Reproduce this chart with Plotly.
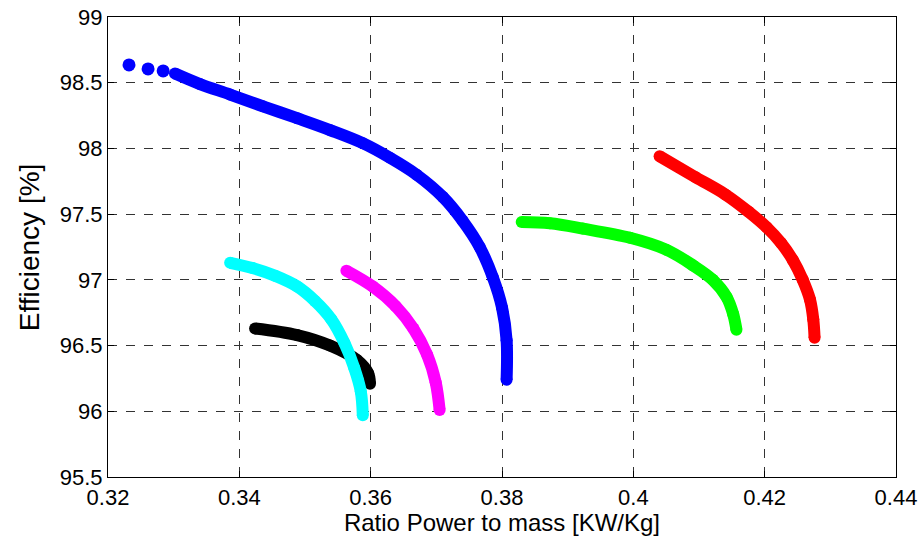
import plotly.graph_objects as go

# Pareto fronts: x = power/mass ratio [kW/kg], y = efficiency [%]
blue_dots_x = [0.3232, 0.3261, 0.3284]
blue_dots_y = [98.635, 98.605, 98.59]
blue_x = [0.3302, 0.3340, 0.3386, 0.3436, 0.3488, 0.3538, 0.3588, 0.3629, 0.3670,
          0.3710, 0.3740, 0.3766, 0.3786, 0.3800, 0.3807, 0.3807]
blue_y = [98.57, 98.49, 98.41, 98.32, 98.23, 98.14, 98.04, 97.93, 97.80,
          97.63, 97.45, 97.25, 97.02, 96.79, 96.54, 96.24]

red_x = [0.4040, 0.4095, 0.4140, 0.4175, 0.4203, 0.4225, 0.4243, 0.4258, 0.4269, 0.4274, 0.4276]
red_y = [97.94, 97.78, 97.65, 97.52, 97.40, 97.28, 97.15, 97.00, 96.85, 96.70, 96.56]

green_x = [0.3830, 0.3873, 0.3923, 0.3995, 0.4050, 0.4091, 0.4121, 0.4142, 0.4152, 0.4157]
green_y = [97.44, 97.43, 97.39, 97.32, 97.23, 97.11, 97.00, 96.87, 96.74, 96.62]

cyan_x = [0.3386, 0.3420, 0.3455, 0.3488, 0.3515, 0.3540, 0.3560, 0.3575, 0.3585, 0.3588]
cyan_y = [97.13, 97.09, 97.03, 96.95, 96.84, 96.70, 96.52, 96.33, 96.15, 95.97]

black_x = [0.3424, 0.3488, 0.3538, 0.3579, 0.3596, 0.3599]
black_y = [96.63, 96.58, 96.50, 96.39, 96.29, 96.21]

magenta_x = [0.3563, 0.3603, 0.3638, 0.3665, 0.3686, 0.3699, 0.3705]
magenta_y = [97.07, 96.95, 96.80, 96.63, 96.43, 96.22, 96.01]

x_ticks = [0.32, 0.34, 0.36, 0.38, 0.40, 0.42, 0.44]
x_labels = ["0.32", "0.34", "0.36", "0.38", "0.4", "0.42", "0.44"]
y_ticks = [95.5, 96, 96.5, 97, 97.5, 98, 98.5, 99]
y_labels = ["95.5", "96", "96.5", "97", "97.5", "98", "98.5", "99"]

W = 12
FONT = "Liberation Sans, Arial, Helvetica, sans-serif"

fig = go.Figure()

def front(x, y, color):
    fig.add_trace(go.Scatter(
        x=x, y=y, mode="lines+markers",
        line=dict(color=color, width=W, shape="spline", smoothing=1),
        marker=dict(color=color, size=W),
        showlegend=False, hoverinfo="x+y",
    ))

fig.add_trace(go.Scatter(
    x=blue_dots_x, y=blue_dots_y, mode="markers",
    marker=dict(color="#0000ff", size=W + 1),
    showlegend=False,
))
front(blue_x, blue_y, "#0000ff")
front(red_x, red_y, "#ff0000")
front(green_x, green_y, "#00ff00")
front(black_x, black_y, "#000000")
front(cyan_x, cyan_y, "#00ffff")
front(magenta_x, magenta_y, "#ff00ff")

axis_common = dict(
    showline=True, linecolor="black", linewidth=1.2, mirror="ticks",
    ticks="inside", ticklen=6, tickcolor="black",
    showgrid=True, gridcolor="#333333", griddash="dash", gridwidth=1,
    zeroline=False, automargin=False, ticklabeloverflow="allow",
)

fig.update_xaxes(
    range=[0.32, 0.44], tickvals=x_ticks, ticktext=x_labels,
    tickfont=dict(family=FONT, size=22, color="black"),
    title=dict(text="Ratio Power to mass [KW/Kg]", standoff=4,
               font=dict(family=FONT, size=24, color="black")),
    **axis_common,
)
fig.update_yaxes(
    range=[95.5, 99], tickvals=y_ticks, ticktext=y_labels,
    tickfont=dict(family=FONT, size=22, color="black"),
    **axis_common,
)

fig.add_annotation(
    text="Efficiency [%]", textangle=-90,
    xref="paper", yref="paper", x=-0.100, y=0.5,
    xanchor="center", yanchor="middle", showarrow=False,
    font=dict(family=FONT, size=28, color="black"),
)

fig.update_layout(
    width=921, height=542,
    margin=dict(l=108, r=25, t=17, b=65),
    plot_bgcolor="white", paper_bgcolor="white",
)

# drop the default page margin so the figure sits at the window's corner
fig.write_html("out.html", config={"displayModeBar": False},
               post_script="document.body.style.margin='0';")
